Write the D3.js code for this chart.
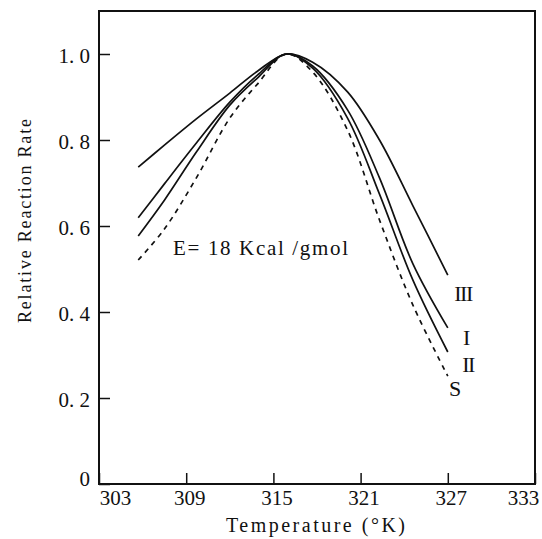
<!DOCTYPE html>
<html>
<head>
<meta charset="utf-8">
<script src="https://cdn.jsdelivr.net/npm/d3@7"></script>
<style>
  body { margin: 0; background: #fff; }
  .viz text { font-family: "Liberation Serif", "Times New Roman", serif; fill: #111; }
</style>
</head>
<body>
<div class="viz"></div>
<script>
const width = 542;
const height = 539;

// temperatures (K)
const temps = [305.7, 307.5, 309.7, 312.0, 313.9, 315.9, 317.7, 320.1, 322.3, 324.6, 327.0];

// relative rate for each curve
const rateIII = [0.737, 0.788, 0.849, 0.909, 0.960, 1.0, 0.981, 0.912, 0.800, 0.647, 0.486];
const rateI = [0.619, 0.698, 0.793, 0.888, 0.951, 1.0, 0.972, 0.870, 0.712, 0.512, 0.363];
const rateII = [0.577, 0.660, 0.772, 0.881, 0.944, 1.0, 0.967, 0.851, 0.674, 0.474, 0.307];
const rateS = [0.521, 0.593, 0.712, 0.851, 0.930, 1.0, 0.958, 0.823, 0.614, 0.416, 0.251];

const seriesNames = ["III", "I", "II", "S"];

// ticks
const xTicks = [303, 309, 315, 321, 327, 333];
const yTicks = [0, 0.2, 0.4, 0.6, 0.8, 1.0];
const yTickLabels = ["0", "0. 2", "0. 4", "0. 6", "0. 8", "1. 0"];

const svg = d3.select(".viz")
    .append("svg")
    .attr("width", width)
    .attr("height", height);

const x = d3.scaleLinear().domain([303, 333]).range([99, 535]);
const y = d3.scaleLinear().domain([0, 1.1]).range([484, 11]);

// x axis, ticks inside the frame
const xAxis = svg.append("g")
    .attr("transform", `translate(0,${y(0)})`)
    .call(d3.axisBottom(x).tickValues(xTicks).tickSize(-11).tickPadding(6).tickFormat(d => d));
xAxis.select(".domain").remove();
xAxis.selectAll("line").attr("stroke", "#111").attr("stroke-width", 1.5);
xAxis.selectAll("text").style("font-size", "21px")
    .attr("x", d => d === 303 ? 16 : d === 333 ? -12 : 3);

// y axis
const yAxis = svg.append("g")
    .attr("transform", `translate(${x(303)},0)`)
    .call(d3.axisLeft(y).tickValues(yTicks).tickSize(-11).tickPadding(9)
        .tickFormat((d, i) => yTickLabels[i]));
yAxis.select(".domain").remove();
yAxis.selectAll("line").attr("stroke", "#111").attr("stroke-width", 1.5);
yAxis.selectAll("text").style("font-size", "21px")
    .attr("y", d => d === 0 ? -5 : 2);

// frame
svg.append("rect")
    .attr("x", x(303))
    .attr("y", y(1.1))
    .attr("width", x(333) - x(303))
    .attr("height", y(0) - y(1.1))
    .attr("fill", "none")
    .attr("stroke", "#111")
    .attr("stroke-width", 2);

// curves
const line = d3.line()
    .x(d => x(d[0]))
    .y(d => y(d[1]))
    .curve(d3.curveCatmullRom.alpha(0.5));

const curves = [
    { name: "III", values: rateIII, dash: null },
    { name: "I", values: rateI, dash: null },
    { name: "II", values: rateII, dash: null },
    { name: "S", values: rateS, dash: "5,5" }
];

svg.selectAll(".curve")
    .data(curves)
    .enter()
    .append("path")
    .attr("class", "curve")
    .attr("d", d => line(temps.map((t, i) => [t, d.values[i]])))
    .attr("fill", "none")
    .attr("stroke", "#111")
    .attr("stroke-width", 1.7)
    .attr("stroke-dasharray", d => d.dash);

// curve labels next to the right ends
const labelPos = { III: [463, 301], I: [466, 345], II: [468, 372], S: [455, 396] };
svg.selectAll(".clabel")
    .data(seriesNames)
    .enter()
    .append("text")
    .attr("class", "clabel")
    .attr("x", d => labelPos[d][0])
    .attr("y", d => labelPos[d][1])
    .attr("text-anchor", "middle")
    .style("font-size", "22px")
    .style("letter-spacing", d => d === "S" ? "0px" : "-1.5px")
    .text(d => d);

// activation energy note
svg.append("text")
    .attr("x", 173)
    .attr("y", 255)
    .attr("textLength", 175)
    .attr("lengthAdjust", "spacing")
    .style("font-size", "21px")
    .text("E= 18 Kcal /gmol");

// axis titles
svg.append("text")
    .attr("x", 226)
    .attr("y", 532)
    .attr("textLength", 179)
    .attr("lengthAdjust", "spacing")
    .style("font-size", "20px")
    .text("Temperature (°K)");

svg.append("text")
    .attr("transform", "translate(31,221) rotate(-90)")
    .attr("text-anchor", "middle")
    .attr("textLength", 204)
    .attr("lengthAdjust", "spacing")
    .style("font-size", "18px")
    .text("Relative Reaction Rate");
</script>
</body>
</html>
